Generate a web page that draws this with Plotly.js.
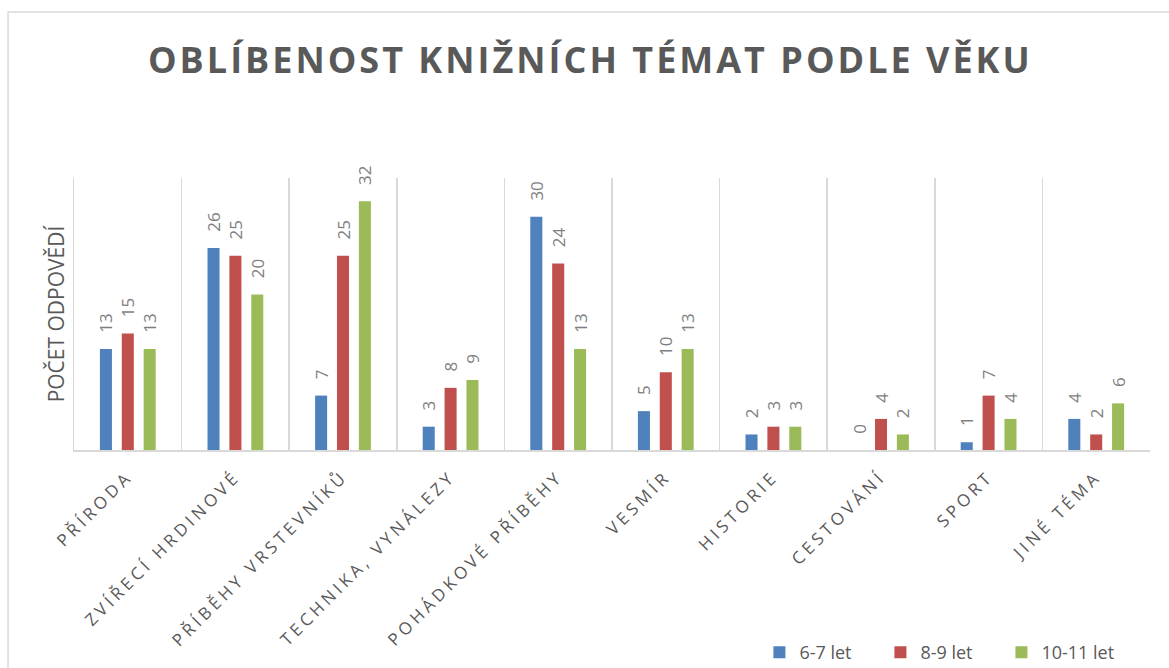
<!DOCTYPE html>
<html>
<head>
<meta charset="utf-8">
<script src="https://cdn.plot.ly/plotly-3.0.1.min.js"></script>
<style>
html,body{margin:0;padding:0;background:#fff;}
#chart{width:1169px;height:668px;}
.gtitle{letter-spacing:3px;}
.xtick text{letter-spacing:3.8px;}
</style>
</head>
<body>
<div id="chart"></div>
<script>
const categories = ["PŘÍRODA","ZVÍŘECÍ HRDINOVÉ","PŘÍBĚHY VRSTEVNÍKŮ","TECHNIKA, VYNÁLEZY","POHÁDKOVÉ PŘÍBĚHY","VESMÍR","HISTORIE","CESTOVÁNÍ","SPORT","JINÉ TÉMA"];
const seriesNames = ["6-7 let","8-9 let","10-11 let"];
const age67 = [13,26,7,3,30,5,2,0,1,4];
const age89 = [15,25,25,8,24,10,3,4,7,2];
const age1011 = [13,20,32,9,13,13,3,2,4,6];
const colors = ["#4f81bd","#c0504d","#9bbb59"];
const seriesValues = [age67, age89, age1011];

const traces = seriesValues.map((vals, i) => ({
  type: 'bar',
  name: seriesNames[i],
  x: categories,
  y: vals,
  marker: {color: colors[i]},
  texttemplate: '\u00a0\u00a0\u00a0%{y}',
  textposition: 'outside',
  textangle: -90,
  constraintext: 'none',
  cliponaxis: false,
  textfont: {family: 'Open Sans', size: 17, color: '#7f7f7f'},
  hoverinfo: 'x+y+name'
}));

const layout = {
  width: 1169,
  height: 668,
  margin: {l: 74, r: 19, t: 178, b: 218, autoexpand: false},
  paper_bgcolor: '#ffffff',
  plot_bgcolor: '#ffffff',
  font: {family: 'Open Sans', color: '#595959'},
  title: {
    text: 'OBLÍBENOST KNIŽNÍCH TÉMAT PODLE VĚKU',
    font: {family: 'Open Sans', size: 36, weight: 'bold', color: '#595959'},
    x: 0.505, xanchor: 'center',
    y: 0.91, yanchor: 'middle', yref: 'container'
  },
  barmode: 'group',
  bargap: 0.39,
  bargroupgap: 0.45,
  showlegend: true,
  legend: {
    orientation: 'h',
    x: 0.637, xanchor: 'left',
    y: -0.745, yanchor: 'middle',
    font: {family: 'Open Sans', size: 18, color: '#595959'},
    entrywidth: 76,
    entrywidthmode: 'pixels'
  },
  xaxis: {
    type: 'category',
    automargin: false,
    tickson: 'boundaries',
    showgrid: true,
    gridcolor: '#d9d9d9',
    gridwidth: 1.5,
    showline: true,
    linecolor: '#d9d9d9',
    linewidth: 2,
    ticks: '',
    tickangle: -45,
    tickfont: {family: 'Open Sans', size: 17, color: '#595959'},
    ticklabelstandoff: 8,
    zeroline: false
  },
  yaxis: {
    automargin: false,
    range: [0, 35],
    showgrid: false,
    zeroline: false,
    showticklabels: false,
    ticks: '',
    showline: true,
    linecolor: '#d9d9d9',
    linewidth: 1.5,
    title: {text: 'POČET ODPOVĚDÍ', font: {family: 'Open Sans', size: 21, color: '#595959'}, standoff: 2}
  },
  shapes: [{
    type: 'rect', xref: 'paper', yref: 'paper', layer: 'below',
    x0: -0.0613, x1: 1.03, y0: 1.61, y1: -0.85,
    line: {color: '#d9d9d9', width: 1.5}, fillcolor: 'rgba(0,0,0,0)'
  }]
};

Plotly.newPlot('chart', traces, layout, {displayModeBar: false, staticPlot: true});
</script>
</body>
</html>
